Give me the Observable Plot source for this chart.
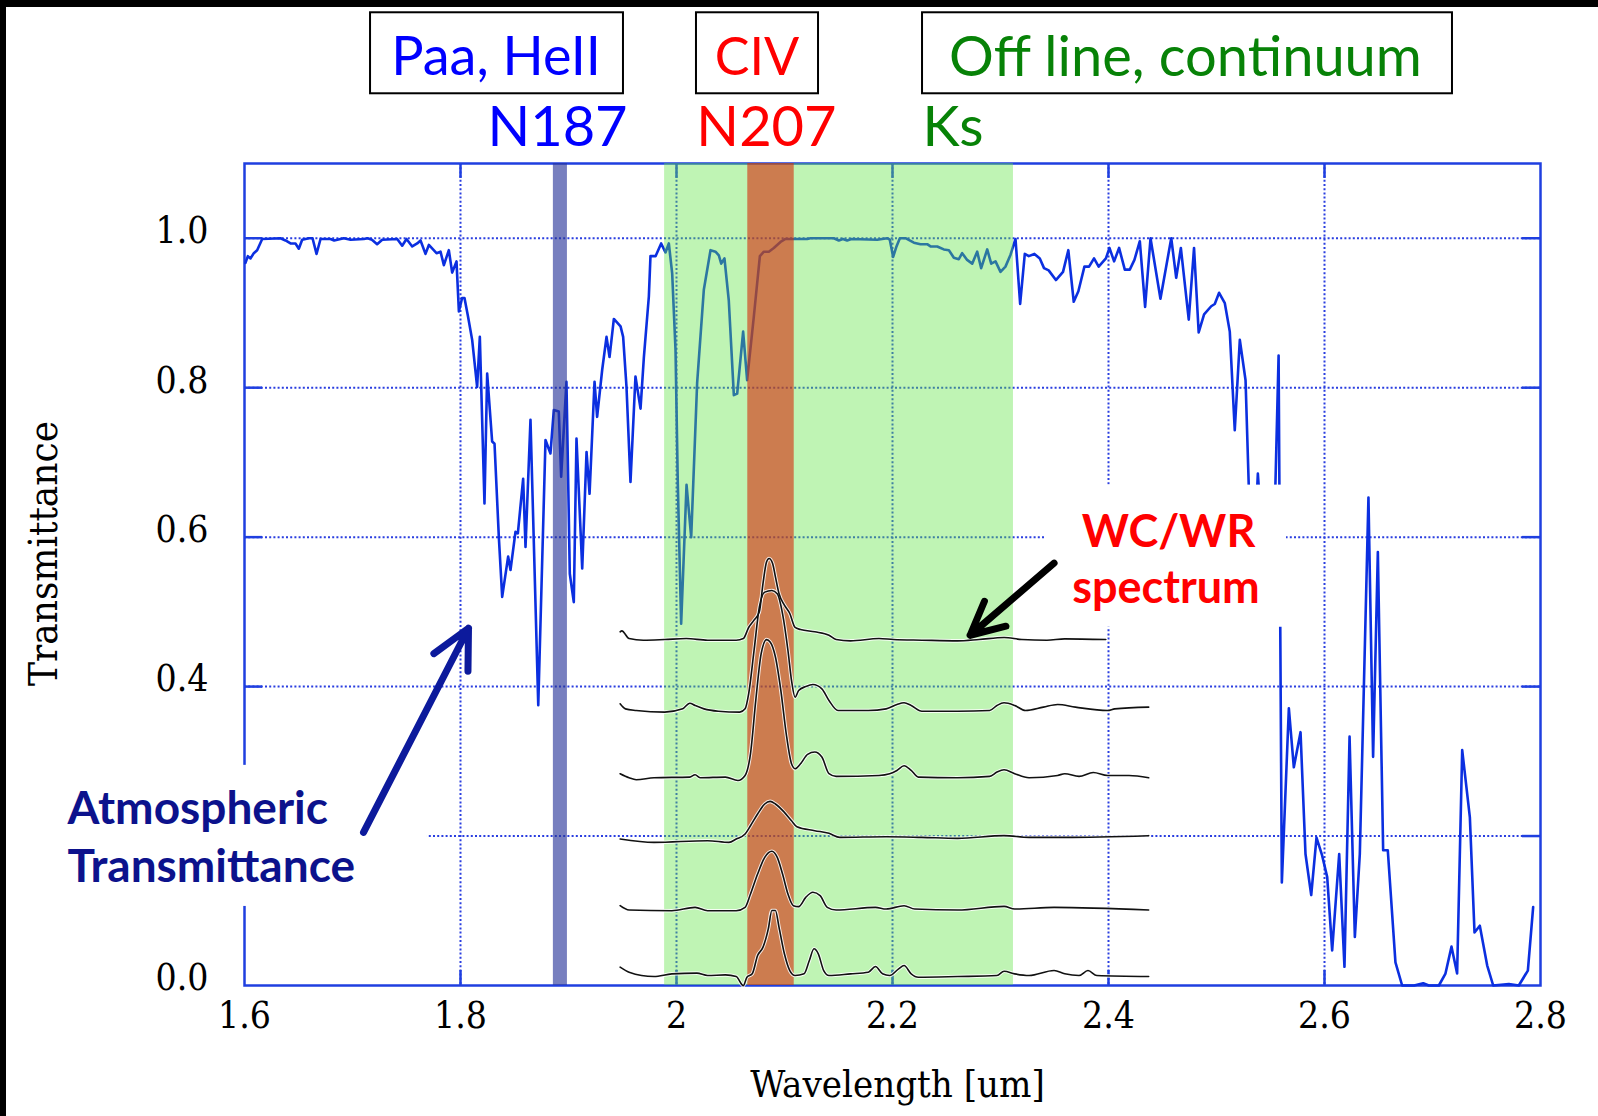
<!DOCTYPE html>
<html><head><meta charset="utf-8">
<script src="https://cdn.jsdelivr.net/npm/d3@7"></script>
<script src="https://cdn.jsdelivr.net/npm/@observablehq/plot@0.6"></script>
<style>
html,body{margin:0;padding:0;background:#fff;}
#wrap{position:relative;width:1598px;height:1116px;overflow:hidden;background:#fff;}
#wrap svg{position:absolute;left:0;top:0;}
.edge{position:absolute;background:#000;z-index:2;}
</style></head><body>
<div id="wrap"></div>
<script>
// ---- data: atmospheric transmittance [wavelength um, transmittance]
const transmittance = [
[1.6009,0.967],[1.6031,0.976],[1.6056,0.973],[1.6086,0.980],[1.6117,0.984],[1.6164,0.999],[1.6333,1.000],[1.6380,0.997],
[1.6426,0.993],[1.6472,0.993],[1.6503,0.986],[1.6534,0.998],[1.6596,1.000],[1.6630,1.000],[1.6667,0.979],[1.6704,0.999],
[1.6796,0.999],[1.6830,0.997],[1.6920,1.000],[1.6982,0.998],[1.7105,0.999],[1.7140,1.000],[1.7180,0.998],[1.7228,0.992],
[1.7275,0.998],[1.7414,0.999],[1.7460,0.990],[1.7500,0.999],[1.7553,0.989],[1.7599,0.993],[1.7630,0.997],[1.7676,0.979],
[1.7707,0.991],[1.7778,0.980],[1.7815,0.982],[1.7846,0.964],[1.7892,0.984],[1.7923,0.954],[1.7963,0.969],[1.7985,0.902],
[1.8015,0.920],[1.8037,0.920],[1.8070,0.895],[1.8108,0.864],[1.8154,0.801],[1.8179,0.868],[1.8222,0.645],[1.8247,0.819],
[1.8293,0.728],[1.8315,0.725],[1.8355,0.600],[1.8386,0.520],[1.8441,0.574],[1.8463,0.556],[1.8509,0.607],[1.8531,0.605],
[1.8580,0.678],[1.8602,0.587],[1.8648,0.757],[1.8720,0.375],[1.8787,0.730],[1.8833,0.712],[1.8864,0.770],[1.8910,0.768],
[1.8932,0.681],[1.8981,0.808],[1.9012,0.551],[1.9049,0.513],[1.9074,0.732],[1.9127,0.558],[1.9167,0.714],[1.9195,0.658],
[1.9241,0.808],[1.9265,0.761],[1.9312,0.824],[1.9352,0.868],[1.9380,0.841],[1.9420,0.892],[1.9451,0.887],[1.9482,0.882],
[1.9506,0.868],[1.9537,0.801],[1.9574,0.674],[1.9620,0.815],[1.9667,0.772],[1.9698,0.841],[1.9744,0.922],[1.9759,0.976],
[1.9806,0.976],[1.9858,0.993],[1.9898,0.981],[1.9929,0.993],[1.9960,0.953],[1.9991,0.850],[2.0012,0.672],[2.0043,0.484],
[2.0093,0.670],[2.0136,0.600],[2.0191,0.806],[2.0253,0.931],[2.0315,0.984],[2.0361,0.982],[2.0392,0.977],[2.0414,0.966],
[2.0444,0.973],[2.0484,0.917],[2.0531,0.790],[2.0562,0.792],[2.0617,0.875],[2.0654,0.810],[2.0716,0.895],[2.0772,0.976],
[2.0809,0.982],[2.0855,0.982],[2.0901,0.987],[2.0963,0.995],[2.1009,0.999],[2.1210,0.999],[2.1241,1.000],[2.1457,1.000],
[2.1503,0.997],[2.1540,0.999],[2.1580,0.997],[2.1620,0.999],[2.1858,0.998],[2.1951,1.000],[2.1975,0.998],[2.2006,0.975],
[2.2037,0.989],[2.2068,1.000],[2.2120,1.000],[2.2198,0.994],[2.2259,0.992],[2.2321,0.992],[2.2352,0.989],[2.2414,0.989],
[2.2475,0.985],[2.2522,0.984],[2.2568,0.974],[2.2614,0.972],[2.2645,0.980],[2.2691,0.971],[2.2738,0.966],[2.2784,0.982],
[2.2821,0.960],[2.2877,0.985],[2.2914,0.966],[2.2954,0.969],[2.3000,0.955],[2.3046,0.962],[2.3093,0.978],[2.3139,0.999],
[2.3182,0.912],[2.3225,0.979],[2.3262,0.976],[2.3314,0.979],[2.3364,0.973],[2.3403,0.960],[2.3446,0.957],[2.3513,0.944],
[2.3579,0.955],[2.3628,0.984],[2.3678,0.915],[2.3721,0.929],[2.3777,0.962],[2.3820,0.962],[2.3866,0.973],[2.3909,0.962],
[2.3976,0.973],[2.4009,0.987],[2.4052,0.969],[2.4098,0.987],[2.4151,0.958],[2.4197,0.958],[2.4240,0.971],[2.4290,0.996],
[2.4339,0.908],[2.4389,1.000],[2.4481,0.919],[2.4581,1.000],[2.4627,0.947],[2.4670,0.987],[2.4743,0.891],[2.4792,0.987],
[2.4835,0.874],[2.4885,0.898],[2.4951,0.909],[2.4984,0.912],[2.5024,0.927],[2.5077,0.913],[2.5123,0.875],[2.5169,0.743],
[2.5216,0.864],[2.5269,0.810],[2.5330,0.520],[2.5383,0.685],[2.5450,0.540],[2.5520,0.520],[2.5575,0.843],[2.5605,0.138],
[2.5670,0.371],[2.5716,0.292],[2.5778,0.339],[2.5824,0.176],[2.5877,0.121],[2.5926,0.198],[2.5978,0.174],[2.6025,0.145],
[2.6071,0.047],[2.6136,0.176],[2.6185,0.025],[2.6232,0.333],[2.6281,0.065],[2.6327,0.176],[2.6407,0.653],[2.6450,0.306],
[2.6494,0.580],[2.6543,0.181],[2.6586,0.181],[2.6657,0.031],[2.6719,0.000],[2.6830,0.000],[2.6914,0.003],[2.6966,0.000],
[2.7059,0.000],[2.7120,0.016],[2.7176,0.052],[2.7228,0.016],[2.7275,0.315],[2.7346,0.225],[2.7389,0.071],[2.7438,0.080],
[2.7506,0.027],[2.7562,0.000],[2.7707,0.002],[2.7799,0.000],[2.7883,0.020],[2.7932,0.105]
];

// ---- data: filters
const filterNames = ["N187", "N207", "Ks"];
const filterLo = [1.886, 2.066, 1.989];
const filterHi = [1.899, 2.109, 2.312];
const headerLabels = ["Paa, HeII", "CIV", "Off line, continuum"];

// ---- data: WC/WR spectra [wavelength, height above the spectrum's continuum]
const spectrumOffsets = [0.463, 0.368, 0.278, 0.196, 0.101, 0.012];
const spectrum1 = [[1.9478,0.0103],[1.9494,0.0116],[1.9561,0.0013],[1.9693,-0.0009],[1.9891,0],[2.0090,0.0013],[2.0288,-0.0009],[2.0553,-0.0009],[2.0619,0.0013],[2.0668,0.0161],[2.0718,0.0259],[2.0767,0.0370],[2.0801,0.0750],[2.0834,0.1040],[2.0857,0.1085],[2.0890,0.1018],[2.0916,0.0839],[2.0949,0.0616],[2.0999,0.0460],[2.1049,0.0348],[2.1098,0.0161],[2.1148,0.0134],[2.1280,0.0103],[2.1412,0.0058],[2.1478,0],[2.1611,-0.0018],[2.1875,0.0013],[2.2008,0],[2.2272,-0.0009],[2.2603,-0.0018],[2.2801,0],[2.3033,0.0027],[2.3198,0],[2.3430,-0.0009],[2.3595,0.0009],[2.3975,0]];
const spectrum2 = [[1.9478,0.0089],[1.9527,0.0022],[1.9627,0],[1.9891,-0.0022],[2.0057,0.0022],[2.0123,0.0098],[2.0172,0.0067],[2.0255,0.0022],[2.0387,-0.0009],[2.0586,-0.0022],[2.0635,0.0022],[2.0668,0.0223],[2.0718,0.0803],[2.0767,0.1383],[2.0817,0.1584],[2.0883,0.1606],[2.0933,0.1562],[2.0982,0.1294],[2.1032,0.0803],[2.1065,0.0402],[2.1098,0.0178],[2.1131,0.0268],[2.1197,0.0321],[2.1263,0.0348],[2.1346,0.0290],[2.1412,0.0134],[2.1495,0],[2.1776,0],[2.1941,0.0022],[2.2041,0.0080],[2.2107,0.0103],[2.2173,0.0067],[2.2272,-0.0009],[2.2603,-0.0009],[2.2900,0],[2.2967,0.0067],[2.3033,0.0103],[2.3132,0.0067],[2.3231,0],[2.3397,0.0045],[2.3529,0.0080],[2.3694,0.0045],[2.3992,0],[2.4058,0.0022],[2.4372,0.0045]];
const spectrum3 = [[1.9478,0.0054],[1.9561,0],[1.9627,-0.0027],[1.9792,0],[2.0123,0.0009],[2.0172,0.0040],[2.0222,0],[2.0453,0.0009],[2.0569,-0.0036],[2.0635,0.0031],[2.0685,0.0321],[2.0734,0.1036],[2.0784,0.1661],[2.0834,0.1848],[2.0867,0.1817],[2.0916,0.1616],[2.0966,0.1170],[2.1016,0.0589],[2.1065,0.0187],[2.1098,0.0121],[2.1148,0.0187],[2.1214,0.0313],[2.1280,0.0344],[2.1346,0.0277],[2.1412,0.0054],[2.1478,0.0018],[2.1875,0.0031],[2.1974,0.0054],[2.2041,0.0098],[2.2107,0.0161],[2.2173,0.0098],[2.2239,0.0009],[2.2603,0],[2.2900,0.0018],[2.2967,0.0076],[2.3033,0.0107],[2.3132,0.0054],[2.3264,0],[2.3529,0.0031],[2.3595,0.0054],[2.3727,0.0018],[2.3859,0.0071],[2.3992,0.0031],[2.4190,0.0031],[2.4372,0]];
const spectrum4 = [[1.9478,0],[1.9792,-0.0045],[2.0288,-0.0022],[2.0486,-0.0045],[2.0553,0],[2.0635,0.0067],[2.0685,0.0178],[2.0751,0.0335],[2.0817,0.0469],[2.0867,0.0504],[2.0916,0.0469],[2.0999,0.0357],[2.1065,0.0245],[2.1115,0.0165],[2.1280,0.0112],[2.1412,0.0076],[2.1512,0.0022],[2.1941,0.0031],[2.2272,0.0022],[2.2603,0.0009],[2.3033,0.0045],[2.3264,0.0022],[2.3595,0.0022],[2.4372,0.0045]];
const spectrum5 = [[1.9478,0.0058],[1.9561,0],[1.9957,-0.0009],[2.0172,0.0036],[2.0288,-0.0009],[2.0553,-0.0009],[2.0635,0.0036],[2.0685,0.0214],[2.0751,0.0482],[2.0817,0.0705],[2.0883,0.0786],[2.0933,0.0705],[2.0982,0.0482],[2.1032,0.0214],[2.1082,0.0058],[2.1131,0.0045],[2.1197,0.0170],[2.1263,0.0237],[2.1330,0.0192],[2.1396,0.0036],[2.1478,0],[2.1842,0.0036],[2.1941,0.0013],[2.2107,0.0058],[2.2206,0.0013],[2.2603,0],[2.3033,0.0049],[2.3132,0.0013],[2.3496,0.0036],[2.4372,0]];
const spectrum6 = [[1.9478,0.0125],[1.9561,0.0058],[1.9792,0],[1.9957,0.0036],[2.0189,0.0045],[2.0288,0.0013],[2.0453,0.0022],[2.0553,0],[2.0619,-0.0121],[2.0652,-0.0009],[2.0701,0.0036],[2.0751,0.0281],[2.0801,0.0393],[2.0850,0.0638],[2.0883,0.0884],[2.0916,0.0884],[2.0949,0.0661],[2.0999,0.0304],[2.1049,0.0080],[2.1098,0.0013],[2.1181,0.0036],[2.1230,0.0214],[2.1273,0.0371],[2.1313,0.0304],[2.1363,0.0080],[2.1412,0.0013],[2.1611,0.0036],[2.1776,0.0058],[2.1842,0.0134],[2.1908,0.0036],[2.1974,0.0013],[2.2057,0.0103],[2.2107,0.0147],[2.2173,0.0036],[2.2239,-0.0009],[2.2603,0],[2.2967,0.0013],[2.3033,0.0071],[2.3132,0.0036],[2.3264,0.0013],[2.3496,0.0080],[2.3595,0.0036],[2.3727,0.0013],[2.3810,0.0080],[2.3892,0.0013],[2.4372,0]];

// ---- axes
const xDomain = [1.6, 2.8];
const yDomain = [0, 1.1];
const xTicks = [1.6, 1.8, 2.0, 2.2, 2.4, 2.6, 2.8];
const xTickLabels = ["1.6", "1.8", "2", "2.2", "2.4", "2.6", "2.8"];
const yTicks = [0, 0.4, 0.6, 0.8, 1.0];          // the 0.2 label is hidden behind the annotation in the original
const yTickLabels = ["0.0", "0.4", "0.6", "0.8", "1.0"];
const xGrid = [1.8, 2.0, 2.2, 2.4, 2.6];
const yGrid = [0.2, 0.4, 0.6, 0.8, 1.0];

// ---- derived tables
const trans = transmittance.map(([w, t]) => ({w, t}));
const filters = filterNames.map((n, i) => ({name: n, lo: filterLo[i], hi: filterHi[i]}));
const spectra = [spectrum1, spectrum2, spectrum3, spectrum4, spectrum5, spectrum6]
  .flatMap((s, i) => s.map(([w, d]) => ({spec: i, w, y: spectrumOffsets[i] + d})));

const blue = "#0b2fe0", frameBlue = "#1f3fe0", gridBlue = "#2a3ee0";
const serif = "'DejaVu Serif Condensed', 'DejaVu Serif', serif";
const sans = "Lato, 'Open Sans', sans-serif";
const tickLenX = 0.0167, tickLenY = 0.02;

const chart = Plot.plot({
  width: 1598, height: 1116,
  marginLeft: 244, marginRight: 58, marginTop: 163, marginBottom: 131,
  x: {domain: xDomain},
  y: {domain: yDomain},
  style: {fontFamily: serif, fontSize: "37px", color: "black", background: "transparent", fontStretch: "condensed"},
  marks: [
    Plot.gridX(xGrid, {stroke: gridBlue, strokeOpacity: 1, strokeWidth: 2, strokeDasharray: "2,2.2"}),
    Plot.gridY(yGrid, {stroke: gridBlue, strokeOpacity: 1, strokeWidth: 2, strokeDasharray: "2,2.2"}),
    // inner ticks
    Plot.ruleY(yGrid, {y: d => d, x1: xDomain[0], x2: xDomain[0] + tickLenX, stroke: frameBlue, strokeWidth: 2.5}),
    Plot.ruleY(yGrid, {y: d => d, x1: xDomain[1] - tickLenX, x2: xDomain[1], stroke: frameBlue, strokeWidth: 2.5}),
    Plot.ruleX(xGrid, {x: d => d, y1: yDomain[0], y2: yDomain[0] + tickLenY, stroke: frameBlue, strokeWidth: 2.5}),
    Plot.ruleX(xGrid, {x: d => d, y1: yDomain[1] - tickLenY, y2: yDomain[1], stroke: frameBlue, strokeWidth: 2.5}),
    Plot.frame({stroke: frameBlue, strokeWidth: 2.5}),
    Plot.axisX(xTicks, {tickSize: 0, tickPadding: 16, tickFormat: d => xTickLabels[xTicks.indexOf(d)], label: null, fontSize: 37, fill: "black"}),
    Plot.axisY(yTicks, {tickSize: 0, tickPadding: 36, dy: -7, tickFormat: d => yTickLabels[yTicks.indexOf(d)], label: null, fontSize: 37, fill: "black"}),
    // atmospheric transmittance
    Plot.line(trans, {x: "w", y: "t", stroke: blue, strokeWidth: 2.6, strokeLinejoin: "round"}),
    // filter bands
    Plot.rect(filters.filter(f => f.name === "N187"), {x1: "lo", x2: "hi", fill: "#28359a", fillOpacity: 0.63}),
    Plot.rect(filters.filter(f => f.name === "Ks"), {x1: "lo", x2: "hi", fill: "#60e444", fillOpacity: 0.40}),
    Plot.rect(filters.filter(f => f.name === "N207"), {x1: "lo", x2: "hi", fill: "#d62c0c", fillOpacity: 0.60}),
    // WC/WR spectra
    Plot.line(spectra, {x: "w", y: "y", z: "spec", stroke: "white", strokeWidth: 3.6, strokeOpacity: 0.85, curve: "monotone-x"}),
    Plot.line(spectra, {x: "w", y: "y", z: "spec", stroke: "#111", strokeWidth: 1.6, curve: "monotone-x"}),
    // white label backgrounds
    Plot.rect([{x1: 1.425, x2: 1.7694, y1: 0.1058, y2: 0.2946}], {x1: "x1", x2: "x2", y1: "y1", y2: "y2", fill: "white"}),
    Plot.rect([{x1: 2.3426, x2: 2.5648, y1: 0.4794, y2: 0.6696}], {x1: "x1", x2: "x2", y1: "y1", y2: "y2", fill: "white"}),
    // annotations
    Plot.text([{x: 1.4361, y: 0.2353, t: "Atmospheric"}, {x: 1.4361, y: 0.1576, t: "Transmittance"}],
      {x: "x", y: "y", text: "t", textAnchor: "start", fill: "#0c128c", fontFamily: sans, fontWeight: "bold", fontSize: 46}),
    Plot.arrow([{x1: 1.7102, y1: 0.2049, x2: 1.8074, y2: 0.4781}], {x1: "x1", y1: "y1", x2: "x2", y2: "y2", stroke: "#0c1a9c", strokeWidth: 7, headLength: 9.2, headAngle: 53}),
    Plot.text([{x: 2.4556, y: 0.6063, t: "WC/WR"}, {x: 2.4532, y: 0.5313, t: "spectrum"}],
      {x: "x", y: "y", text: "t", fill: "#ff0000", fontFamily: sans, fontWeight: "bold", fontSize: 45}),
    Plot.arrow([{x1: 2.3496, y1: 0.5652, x2: 2.2719, y2: 0.4687}], {x1: "x1", y1: "y1", x2: "x2", y2: "y2", stroke: "black", strokeWidth: 7, headLength: 9, headAngle: 53}),
    // header boxes
    Plot.rect([{x1: 1.7167, x2: 1.9509}, {x1: 2.0185, x2: 2.1315}, {x1: 2.2278, x2: 2.7185}],
      {x1: "x1", x2: "x2", y1: 1.1933, y2: 1.3017, fill: "white", stroke: "black", strokeWidth: 2}),
    Plot.text([{x: 1.8329, t: headerLabels[0], c: "#0000ff", s: 54}, {x: 2.0745, t: headerLabels[1], c: "#ff0000", s: 52}, {x: 2.4713, t: headerLabels[2], c: "#078207", s: 56}],
      {x: "x", y: 1.2409, text: "t", fill: "c", fontFamily: sans, fontSize: "s"}),
    Plot.text([{x: 1.8898, t: filterNames[0], c: "#0000ff"}, {x: 2.0833, t: filterNames[1], c: "#ff0000"}, {x: 2.2560, t: filterNames[2], c: "#078207"}],
      {x: "x", y: 1.148, text: "t", fill: "c", fontFamily: sans, fontSize: 56}),
    // axis titles
    Plot.text(["Transmittance"], {frameAnchor: "left", text: d => d, rotate: -90, textAnchor: "middle", lineAnchor: "middle", dx: -200, dy: -21, fontSize: 40, fill: "black"}),
    Plot.text(["Wavelength [um]"], {frameAnchor: "bottom", text: d => d, textAnchor: "middle", lineAnchor: "middle", dx: 5, dy: 99, fontSize: 38, fill: "black"})
  ]
});

const wrap = document.getElementById("wrap");
wrap.appendChild(chart);
const e1 = document.createElement("div"); e1.className = "edge"; e1.style.cssText = "left:0;top:0;width:1598px;height:7px";
const e2 = document.createElement("div"); e2.className = "edge"; e2.style.cssText = "left:0;top:0;width:6px;height:1116px";
wrap.appendChild(e1); wrap.appendChild(e2);
</script>
</body></html>
